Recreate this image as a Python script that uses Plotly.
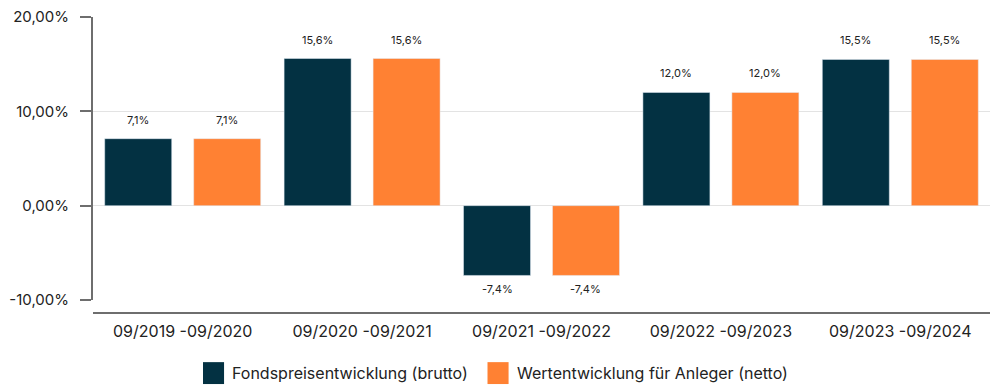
import plotly.graph_objects as go

# Zeiträume und Wertentwicklung in Prozent
periods = ["09/2019 -09/2020", "09/2020 -09/2021", "09/2021 -09/2022",
           "09/2022 -09/2023", "09/2023 -09/2024"]
brutto = [7.1, 15.6, -7.4, 12.0, 15.5]
netto = [7.1, 15.6, -7.4, 12.0, 15.5]
series_names = ["Fondspreisentwicklung (brutto)", "Wertentwicklung für Anleger (netto)"]
colors = ["#033142", "#FF8133"]
y_ticks = [-10, 0, 10, 20]
y_tick_text = ["-10,00%", "0,00%", "10,00%", "20,00%"]

FONT = "Inter, Open Sans, sans-serif"
BARGAP = 0.008
BARGROUPGAP = 0.247

fig = go.Figure()
for name, vals, col, og in zip(series_names, [brutto, netto], colors, ["a", "b"]):
    fig.add_trace(go.Bar(
        x=periods, y=vals, name=name, marker_color=col, offsetgroup=og,
        showlegend=False, hoverinfo="x+y",
    ))

# Wertbeschriftungen über bzw. unter den Balken (Mitte der jeweiligen Balkenposition)
slot = (1 - BARGAP) / 2
annotations = []
for idx, vals in enumerate([brutto, netto]):
    shift = (-0.5 if idx == 0 else 0.5) * slot
    for i, v in enumerate(vals):
        label = f"{v:.1f}%".replace(".", ",")
        annotations.append(dict(
            x=i + shift, y=v, xref="x", yref="y", text=label, showarrow=False,
            yanchor="bottom" if v >= 0 else "top",
            yshift=10 if v >= 0 else -5,
            font=dict(family=FONT, size=11, color="#222222"),
        ))

# Eigene Legende unterhalb der Achse
legend_items = [(0.1226, series_names[0], colors[0]),
                (0.4398, series_names[1], colors[1])]
shapes = []
for x0, name, col in legend_items:
    shapes.append(dict(type="rect", xref="paper", yref="paper",
                       x0=x0, x1=x0 + 0.0235, y0=-0.240, y1=-0.166,
                       fillcolor=col, line=dict(width=0)))
    annotations.append(dict(x=x0 + 0.0235 + 0.007, y=-0.203, xref="paper", yref="paper",
                            text=name, showarrow=False, xanchor="left", yanchor="middle",
                            font=dict(family=FONT, size=16, color="#222222")))

fig.update_layout(
    width=992, height=385,
    margin=dict(l=93, r=2, t=17, b=72),
    plot_bgcolor="white", paper_bgcolor="white",
    bargap=BARGAP, bargroupgap=BARGROUPGAP,
    font=dict(family=FONT, size=15, color="#222222"),
    annotations=annotations, shapes=shapes,
    xaxis=dict(
        anchor="free", position=0, showline=True, linecolor="#6e6e6e", linewidth=2,
        showgrid=False, ticks="", tickfont=dict(size=16, color="#222222"),
        ticklabelstandoff=4, range=[-0.5, 4.5],
    ),
    yaxis=dict(
        domain=[0.044, 1], range=[-10, 20], tickvals=y_ticks, ticktext=y_tick_text,
        showline=True, linecolor="#6e6e6e", linewidth=2,
        ticks="outside", ticklen=11, tickcolor="#6e6e6e", tickwidth=1.5,
        ticklabelstandoff=8,
        showgrid=True, gridcolor="#e3e3e3", gridwidth=1,
        zeroline=True, zerolinecolor="#e3e3e3", zerolinewidth=1,
        tickfont=dict(size=15, color="#222222"),
    ),
)

fig.write_html("out.html")
